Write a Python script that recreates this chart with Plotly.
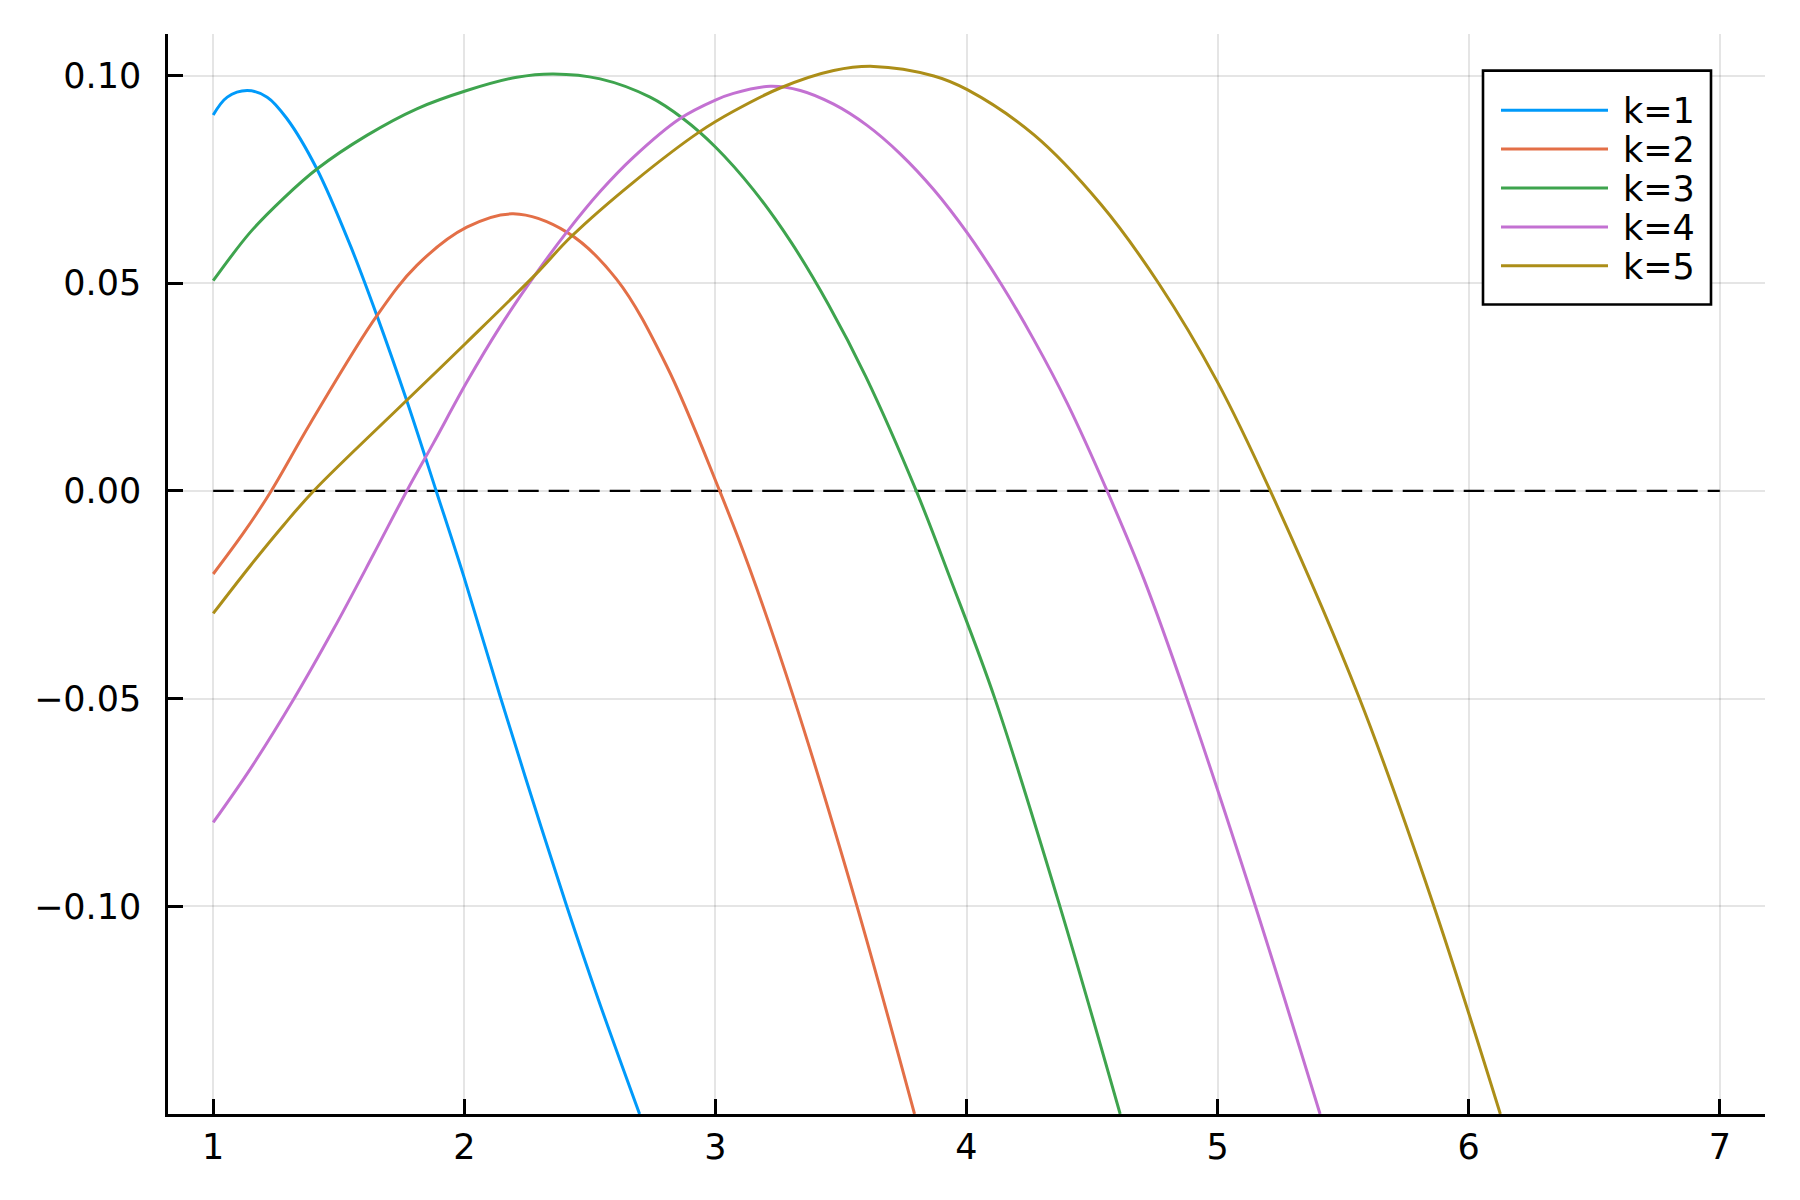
import plotly.graph_objects as go

# ---------------- data ----------------
k1_x = [1.0, 1.056, 1.135, 1.215, 1.294, 1.413, 1.546, 1.652, 1.771, 1.888, 1.997, 2.142, 2.275, 2.408, 2.533, 2.698]
k1_y = [0.0905, 0.0948, 0.0964, 0.0948, 0.0896, 0.0775, 0.0591, 0.0422, 0.0217, 0.0, -0.0204, -0.0493, -0.075, -0.10, -0.1223, -0.150]

k2_x = [1.0, 1.122, 1.231, 1.387, 1.652, 1.811, 2.010, 2.195, 2.408, 2.606, 2.805, 3.017, 3.137, 3.313, 3.564, 3.793]
k2_y = [-0.020, -0.010, 0.0, 0.0163, 0.0422, 0.0543, 0.0635, 0.0667, 0.0623, 0.0510, 0.0302, 0.0, -0.0188, -0.05, -0.10, -0.15]

k3_x = [1.0, 1.148, 1.281, 1.413, 1.612, 1.811, 2.010, 2.209, 2.355, 2.541, 2.740, 2.872, 3.0, 3.15, 3.30, 3.45, 3.60, 3.80, 3.936, 4.113, 4.372, 4.612]
k3_y = [0.0506, 0.0623, 0.0705, 0.0775, 0.0856, 0.0920, 0.0964, 0.0996, 0.1004, 0.0992, 0.0948, 0.0896, 0.0828, 0.0726, 0.0600, 0.0449, 0.0274, 0.0, -0.0212, -0.05, -0.10, -0.15]

k4_x = [1.0, 1.148, 1.321, 1.480, 1.639, 1.771, 1.877, 2.010, 2.142, 2.282, 2.408, 2.540, 2.673, 2.858, 3.0, 3.072, 3.218, 3.338, 3.471, 3.604, 3.737, 3.870, 4.003, 4.136, 4.269, 4.402, 4.56, 4.707, 4.876, 5.149, 5.408]
k4_y = [-0.0798, -0.0669, -0.0501, -0.0332, -0.0152, 0.0, 0.0115, 0.0262, 0.0395, 0.0520, 0.0623, 0.0720, 0.0803, 0.0896, 0.0941, 0.0957, 0.0974, 0.0964, 0.0931, 0.0880, 0.0811, 0.0725, 0.0621, 0.0500, 0.0363, 0.0210, 0.0, -0.0213, -0.0497, -0.0997, -0.15]

k5_x = [1.0, 1.148, 1.281, 1.400, 1.774, 2.010, 2.282, 2.427, 2.673, 2.938, 3.072, 3.258, 3.471, 3.630, 3.870, 4.003, 4.269, 4.535, 4.765, 4.997, 5.210, 5.562, 5.856, 6.126]
k5_y = [-0.0295, -0.018, -0.0082, 0.0, 0.0220, 0.0358, 0.0520, 0.0613, 0.0743, 0.0865, 0.0914, 0.0970, 0.1012, 0.1022, 0.0999, 0.0966, 0.0857, 0.0690, 0.0500, 0.0265, 0.0, -0.0495, -0.0990, -0.150]

series_names = ["k=1", "k=2", "k=3", "k=4", "k=5"]
series_x = [k1_x, k2_x, k3_x, k4_x, k5_x]
series_y = [k1_y, k2_y, k3_y, k4_y, k5_y]
colors = ["#009AFA", "#E36F47", "#3EA44E", "#C371D2", "#AC8E18"]

ref_x = [1, 7]
ref_y = [0, 0]

x_ticks = [1, 2, 3, 4, 5, 6, 7]
y_ticks = [-0.10, -0.05, 0.00, 0.05, 0.10]
x_range = [0.82, 7.18]
y_range = [-0.15, 0.11]

# ---------------- figure ----------------
W, H = 1800, 1200
OFF = 8  # page body margin
ML, MR, MT, MB = 160, 43, 26, 94
FONT = "DejaVu Sans"

fig = go.Figure()

fig.add_trace(go.Scatter(x=ref_x, y=ref_y, mode="lines",
                         line=dict(color="black", width=2.4, dash="20.5px,10px"),
                         showlegend=False, hoverinfo="skip"))

for name, xs, ys, c in zip(series_names, series_x, series_y, colors):
    fig.add_trace(go.Scatter(x=xs, y=ys, mode="lines", name=name,
                             line=dict(color=c, width=3, shape="spline", smoothing=1.0),
                             showlegend=False))

axis_common = dict(
    showgrid=True, gridcolor="rgba(0,0,0,0.1)", gridwidth=1.5,
    showline=True, linecolor="black", linewidth=2.5,
    ticks="inside", ticklen=15, tickwidth=2.5, tickcolor="black",
    zeroline=False, mirror=False,
    tickfont=dict(family=FONT, size=35, color="black"),
)

fig.update_layout(
    width=W, height=H,
    margin=dict(l=ML, r=MR, t=MT, b=MB),
    paper_bgcolor="white", plot_bgcolor="white",
    xaxis=dict(range=x_range, tickvals=x_ticks, ticktext=[str(v) for v in x_ticks],
               ticklabelstandoff=0, **axis_common),
    yaxis=dict(range=y_range, tickvals=y_ticks, tickformat=".2f",
               ticklabelstandoff=17, **axis_common),
    showlegend=False,
)

# ---------------- custom legend (screen pixel layout -> paper coords) ----------------
pw = W - ML - MR
ph = H - MT - MB

def px2x(p):
    return (p - OFF - ML) / pw

def py2y(p):
    return (H - MB - (p - OFF)) / ph

shapes = [dict(type="rect", xref="paper", yref="paper", layer="above",
               x0=px2x(1483), x1=px2x(1711), y0=py2y(304.5), y1=py2y(70.6),
               line=dict(color="black", width=2.6), fillcolor="white")]
annotations = []
for i, (name, c) in enumerate(zip(series_names, colors)):
    yc = 110.2 + i * 38.9
    shapes.append(dict(type="line", xref="paper", yref="paper", layer="above",
                       x0=px2x(1501), x1=px2x(1608), y0=py2y(yc), y1=py2y(yc),
                       line=dict(color=c, width=3)))
    annotations.append(dict(xref="paper", yref="paper", x=px2x(1621), y=py2y(yc + 1),
                            text=name, showarrow=False, xanchor="left", yanchor="middle",
                            font=dict(family=FONT, size=35, color="black")))
fig.update_layout(shapes=shapes, annotations=annotations)

fig.write_html("out.html")
